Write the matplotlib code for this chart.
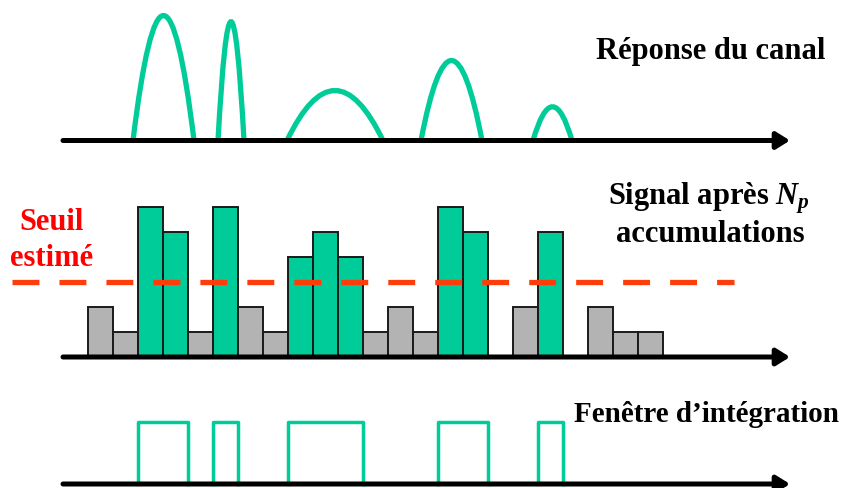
import matplotlib
matplotlib.use('Agg')
import matplotlib.pyplot as plt
from matplotlib.path import Path
from matplotlib.patches import PathPatch, FancyArrowPatch

plt.rcParams['font.family'] = 'Liberation Serif'
plt.rcParams['font.weight'] = 'bold'
plt.rcParams['mathtext.fontset'] = 'custom'
plt.rcParams['mathtext.it'] = 'Liberation Serif:bold:italic'
plt.rcParams['mathtext.rm'] = 'Liberation Serif:bold'

GREEN = '#00CC99'
GRAY = '#B3B3B3'
RED = '#FF3D0A'

# channel response: start, end (time bins) and peak height
arc_start = [1.80, 5.20, 7.96, 13.32, 17.80]
arc_end = [4.24, 6.24, 11.80, 15.76, 19.36]
arc_height = [5.0, 4.75, 2.0, 3.2, 1.35]

# signal after Np accumulations, one value per time bin
signal = [2, 1, 6, 5, 1, 6, 2, 1, 4, 5, 4, 1, 2, 1, 6, 5, 0, 2, 5, 0, 2, 1, 1]
threshold = 3
window_height = 2.5

W, H = 853, 489
PX = 25.0          # pixels per unit
X0 = 88            # pixel of bin 0


def panel(fig, top, bottom, base):
    ax = fig.add_axes([0, 1 - bottom / H, 1, (bottom - top) / H])
    ax.set_xlim(-X0 / PX, (W - X0) / PX)
    ax.set_ylim(-(bottom - base) / PX, (base - top) / PX)
    ax.axis('off')
    arr = FancyArrowPatch((-1.0, 0), (28.08, 0),
                          arrowstyle='-|>,head_length=8,head_width=5',
                          mutation_scale=1, lw=3.6, color='black',
                          shrinkA=0, shrinkB=0, zorder=5)
    ax.add_patch(arr)
    return ax


fig = plt.figure(figsize=(W / 100, H / 100), dpi=100)

# top: channel response
ax1 = panel(fig, 0, 165, 141.5)
for a, b, h in zip(arc_start, arc_end, arc_height):
    p = Path([(a, 0), ((a + b) / 2, 2 * h), (b, 0)],
             [Path.MOVETO, Path.CURVE3, Path.CURVE3])
    ax1.add_patch(PathPatch(p, fill=False, edgecolor=GREEN, lw=3.8,
                            capstyle='butt', zorder=3))

# middle: accumulated signal
ax2 = panel(fig, 170, 380, 358)
xs = list(range(len(signal)))
for i, v in zip(xs, signal):
    if v == 0:
        continue
    ax2.bar(i, v, width=1, align='edge',
            color=GREEN if v > threshold else GRAY,
            edgecolor='#1a1a1a', lw=1.4, zorder=3)
ax2.plot([-3.04, 25.84], [threshold, threshold], color=RED, lw=3.8,
         dashes=(5.1, 3.8), dash_capstyle='butt', zorder=4)

# bottom: integration windows from bins above threshold
ax3 = panel(fig, 390, 489, 485)
runs = []
start = None
for i, v in enumerate(signal + [0]):
    if v > threshold and start is None:
        start = i
    elif v <= threshold and start is not None:
        runs.append((start, i))
        start = None
for a, b in runs:
    ax3.plot([a, a, b, b], [0, window_height, window_height, 0],
             color=GREEN, lw=2.5, zorder=3)

# labels
fig.text(711 / W, 1 - 52 / H, 'Réponse du canal', ha='center', va='center',
         fontsize=22, fontweight='bold')
fig.text(709 / W, 1 - 198 / H, 'Signal après $N_p$', ha='center',
         va='center', fontsize=22, fontweight='bold')
fig.text(710 / W, 1 - 235 / H, 'accumulations', ha='center', va='center',
         fontsize=22, fontweight='bold')
fig.text(52 / W, 1 - 223 / H, 'Seuil', ha='center', va='center',
         fontsize=22, fontweight='bold', color='red')
fig.text(52 / W, 1 - 259 / H, 'estimé', ha='center', va='center',
         fontsize=22, fontweight='bold', color='red')
fig.text(706 / W, 1 - 415 / H, 'Fenêtre d\u2019intégration', ha='center',
         va='center', fontsize=21, fontweight='bold')

fig.savefig('out.png', dpi=100)
